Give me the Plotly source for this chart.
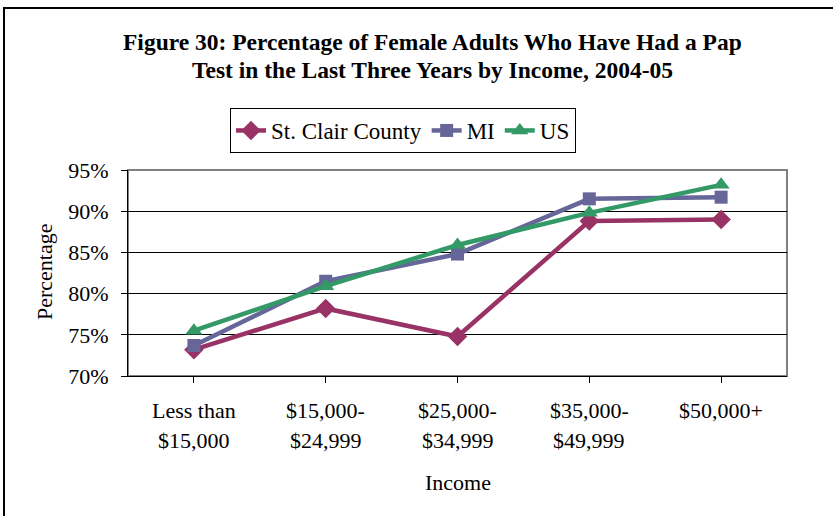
import plotly.graph_objects as go

categories = ["Less than<br>$15,000", "$15,000-<br>$24,999", "$25,000-<br>$34,999",
              "$35,000-<br>$49,999", "$50,000+"]
st_clair = [73.2, 78.2, 74.8, 88.8, 89.0]
mi = [73.7, 81.5, 84.8, 91.5, 91.7]
us = [75.5, 80.9, 85.9, 89.8, 93.2]
y_ticks = [70, 75, 80, 85, 90, 95]
y_tick_labels = [f"{v}%" for v in y_ticks]

FONT = "Liberation Serif, Times New Roman, serif"
W, H = 833, 516
L, R, T, B = 128, 46, 170, 140
PW, PH = W - L - R, H - T - B

def px_x(x):
    return (x - L) / PW

def px_y(y):
    return (H - B - y) / PH

xs = list(range(len(categories)))

fig = go.Figure()
series = [
    ("St. Clair County", st_clair, "#993366", "diamond", 15),
    ("MI", mi, "#666699", "square", 13),
    ("US", us, "#339966", "triangle-up", 15),
]
for name, vals, color, sym, size in series:
    fig.add_trace(go.Scatter(
        x=xs, y=vals, name=name, mode="lines+markers",
        line=dict(color=color, width=4.5),
        marker=dict(symbol=sym, size=size, color=color),
        cliponaxis=False,
    ))

annotations = []
for i, c in enumerate(categories):
    parts = c.split("<br>")
    for j, p in enumerate(parts):
        annotations.append(dict(
            x=i, xref="x", y=px_y(410 + 30 * j), yref="paper",
            text=p, showarrow=False, font=dict(family=FONT, size=22, color="black"),
            xanchor="center", yanchor="middle"))

annotations.append(dict(
    x=px_x(432), y=px_y(42), xref="paper", yref="paper", showarrow=False,
    text="<b>Figure 30: Percentage of Female Adults Who Have Had a Pap</b>",
    font=dict(family=FONT, size=23.5, color="black"), xanchor="center", yanchor="middle"))
annotations.append(dict(
    x=px_x(432), y=px_y(70), xref="paper", yref="paper", showarrow=False,
    text="<b>Test in the Last Three Years by Income, 2004-05</b>",
    font=dict(family=FONT, size=23.5, color="black"), xanchor="center", yanchor="middle"))
annotations.append(dict(
    x=0.5, y=px_y(482), xref="paper", yref="paper", showarrow=False,
    text="Income", font=dict(family=FONT, size=22, color="black"),
    xanchor="center", yanchor="middle"))
annotations.append(dict(
    x=px_x(44), y=px_y(272), xref="paper", yref="paper", showarrow=False,
    text="Percentage", textangle=-90, font=dict(family=FONT, size=22, color="black"),
    xanchor="center", yanchor="middle"))

shapes = [
    dict(type="rect", xref="paper", yref="paper", x0=0, x1=1, y0=0, y1=1,
         line=dict(color="#808080", width=2), layer="below"),
    dict(type="rect", xref="paper", yref="paper",
         x0=px_x(4), x1=px_x(845), y0=px_y(530), y1=px_y(8),
         line=dict(color="black", width=2), layer="below"),
]

fig.update_layout(
    width=W, height=H,
    margin=dict(l=L, r=R, t=T, b=B),
    paper_bgcolor="white", plot_bgcolor="white",
    font=dict(family=FONT, size=22, color="black"),
    showlegend=True,
    legend=dict(
        orientation="h", x=px_x(403), y=px_y(108), xanchor="center", yanchor="top",
        bordercolor="black", borderwidth=1, bgcolor="white",
        font=dict(family=FONT, size=23, color="black"),
        tracegroupgap=0,
    ),
    xaxis=dict(
        range=[-0.5, len(categories) - 0.5], tickmode="array", tickvals=xs,
        showticklabels=False, tickson="boundaries", ticks="outside", ticklen=6,
        tickcolor="black", showline=True, linecolor="black", linewidth=1,
        showgrid=False, zeroline=False, fixedrange=True,
    ),
    yaxis=dict(
        range=[70, 95], tickmode="array", tickvals=y_ticks, ticktext=y_tick_labels,
        ticks="outside", ticklen=6, tickcolor="black",
        showline=True, linecolor="black", linewidth=1,
        showgrid=True, gridcolor="black", gridwidth=1, zeroline=False,
        tickfont=dict(family=FONT, size=22, color="black"),
        ticklabelstandoff=8, fixedrange=True,
    ),
    annotations=annotations,
    shapes=shapes,
)

fig.write_html("out.html", config={"displayModeBar": False},
               post_script="document.body.style.margin='0';document.body.style.overflow='hidden';")
